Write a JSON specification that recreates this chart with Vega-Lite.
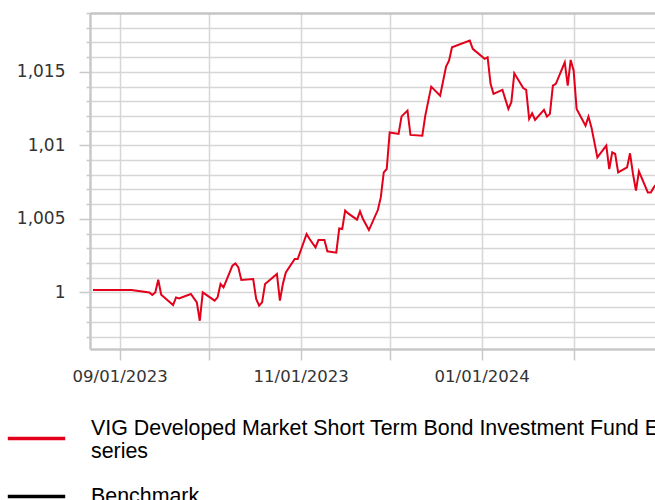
{
  "$schema": "https://vega.github.io/schema/vega-lite/v6.json",
  "width": 565,
  "height": 336,
  "autosize": {"type": "none"},
  "padding": {"left": 90, "top": 13, "right": 0, "bottom": 151},
  "background": "white",
  "config": {"view": {"stroke": null}},
  "data": {
    "values": [
      {"date": "2023-08-23", "value": 1.00016, "series": "VIG Developed Market Short Term Bond Investment Fund E series"},
      {"date": "2023-09-05", "value": 1.00016, "series": "VIG Developed Market Short Term Bond Investment Fund E series"},
      {"date": "2023-09-11", "value": 1.00000, "series": "VIG Developed Market Short Term Bond Investment Fund E series"},
      {"date": "2023-09-12", "value": 0.99982, "series": "VIG Developed Market Short Term Bond Investment Fund E series"},
      {"date": "2023-09-13", "value": 1.00000, "series": "VIG Developed Market Short Term Bond Investment Fund E series"},
      {"date": "2023-09-14", "value": 1.00086, "series": "VIG Developed Market Short Term Bond Investment Fund E series"},
      {"date": "2023-09-15", "value": 0.99984, "series": "VIG Developed Market Short Term Bond Investment Fund E series"},
      {"date": "2023-09-19", "value": 0.99914, "series": "VIG Developed Market Short Term Bond Investment Fund E series"},
      {"date": "2023-09-20", "value": 0.99966, "series": "VIG Developed Market Short Term Bond Investment Fund E series"},
      {"date": "2023-09-21", "value": 0.99959, "series": "VIG Developed Market Short Term Bond Investment Fund E series"},
      {"date": "2023-09-25", "value": 0.99989, "series": "VIG Developed Market Short Term Bond Investment Fund E series"},
      {"date": "2023-09-27", "value": 0.99932, "series": "VIG Developed Market Short Term Bond Investment Fund E series"},
      {"date": "2023-09-28", "value": 0.99807, "series": "VIG Developed Market Short Term Bond Investment Fund E series"},
      {"date": "2023-09-29", "value": 1.00000, "series": "VIG Developed Market Short Term Bond Investment Fund E series"},
      {"date": "2023-10-03", "value": 0.99944, "series": "VIG Developed Market Short Term Bond Investment Fund E series"},
      {"date": "2023-10-04", "value": 0.99966, "series": "VIG Developed Market Short Term Bond Investment Fund E series"},
      {"date": "2023-10-05", "value": 1.00057, "series": "VIG Developed Market Short Term Bond Investment Fund E series"},
      {"date": "2023-10-06", "value": 1.00034, "series": "VIG Developed Market Short Term Bond Investment Fund E series"},
      {"date": "2023-10-09", "value": 1.00182, "series": "VIG Developed Market Short Term Bond Investment Fund E series"},
      {"date": "2023-10-10", "value": 1.00197, "series": "VIG Developed Market Short Term Bond Investment Fund E series"},
      {"date": "2023-10-11", "value": 1.00170, "series": "VIG Developed Market Short Term Bond Investment Fund E series"},
      {"date": "2023-10-12", "value": 1.00084, "series": "VIG Developed Market Short Term Bond Investment Fund E series"},
      {"date": "2023-10-16", "value": 1.00091, "series": "VIG Developed Market Short Term Bond Investment Fund E series"},
      {"date": "2023-10-17", "value": 0.99955, "series": "VIG Developed Market Short Term Bond Investment Fund E series"},
      {"date": "2023-10-18", "value": 0.99910, "series": "VIG Developed Market Short Term Bond Investment Fund E series"},
      {"date": "2023-10-19", "value": 0.99932, "series": "VIG Developed Market Short Term Bond Investment Fund E series"},
      {"date": "2023-10-20", "value": 1.00057, "series": "VIG Developed Market Short Term Bond Investment Fund E series"},
      {"date": "2023-10-24", "value": 1.00125, "series": "VIG Developed Market Short Term Bond Investment Fund E series"},
      {"date": "2023-10-25", "value": 0.99944, "series": "VIG Developed Market Short Term Bond Investment Fund E series"},
      {"date": "2023-10-26", "value": 1.00057, "series": "VIG Developed Market Short Term Bond Investment Fund E series"},
      {"date": "2023-10-27", "value": 1.00136, "series": "VIG Developed Market Short Term Bond Investment Fund E series"},
      {"date": "2023-10-30", "value": 1.00227, "series": "VIG Developed Market Short Term Bond Investment Fund E series"},
      {"date": "2023-10-31", "value": 1.00227, "series": "VIG Developed Market Short Term Bond Investment Fund E series"},
      {"date": "2023-11-03", "value": 1.00397, "series": "VIG Developed Market Short Term Bond Investment Fund E series"},
      {"date": "2023-11-04", "value": 1.00363, "series": "VIG Developed Market Short Term Bond Investment Fund E series"},
      {"date": "2023-11-06", "value": 1.00306, "series": "VIG Developed Market Short Term Bond Investment Fund E series"},
      {"date": "2023-11-07", "value": 1.00356, "series": "VIG Developed Market Short Term Bond Investment Fund E series"},
      {"date": "2023-11-09", "value": 1.00356, "series": "VIG Developed Market Short Term Bond Investment Fund E series"},
      {"date": "2023-11-10", "value": 1.00279, "series": "VIG Developed Market Short Term Bond Investment Fund E series"},
      {"date": "2023-11-13", "value": 1.00270, "series": "VIG Developed Market Short Term Bond Investment Fund E series"},
      {"date": "2023-11-14", "value": 1.00435, "series": "VIG Developed Market Short Term Bond Investment Fund E series"},
      {"date": "2023-11-15", "value": 1.00431, "series": "VIG Developed Market Short Term Bond Investment Fund E series"},
      {"date": "2023-11-16", "value": 1.00556, "series": "VIG Developed Market Short Term Bond Investment Fund E series"},
      {"date": "2023-11-17", "value": 1.00537, "series": "VIG Developed Market Short Term Bond Investment Fund E series"},
      {"date": "2023-11-20", "value": 1.00495, "series": "VIG Developed Market Short Term Bond Investment Fund E series"},
      {"date": "2023-11-21", "value": 1.00551, "series": "VIG Developed Market Short Term Bond Investment Fund E series"},
      {"date": "2023-11-22", "value": 1.00499, "series": "VIG Developed Market Short Term Bond Investment Fund E series"},
      {"date": "2023-11-24", "value": 1.00424, "series": "VIG Developed Market Short Term Bond Investment Fund E series"},
      {"date": "2023-11-27", "value": 1.00560, "series": "VIG Developed Market Short Term Bond Investment Fund E series"},
      {"date": "2023-11-28", "value": 1.00646, "series": "VIG Developed Market Short Term Bond Investment Fund E series"},
      {"date": "2023-11-29", "value": 1.00816, "series": "VIG Developed Market Short Term Bond Investment Fund E series"},
      {"date": "2023-11-30", "value": 1.00839, "series": "VIG Developed Market Short Term Bond Investment Fund E series"},
      {"date": "2023-12-01", "value": 1.01088, "series": "VIG Developed Market Short Term Bond Investment Fund E series"},
      {"date": "2023-12-04", "value": 1.01078, "series": "VIG Developed Market Short Term Bond Investment Fund E series"},
      {"date": "2023-12-05", "value": 1.01197, "series": "VIG Developed Market Short Term Bond Investment Fund E series"},
      {"date": "2023-12-07", "value": 1.01236, "series": "VIG Developed Market Short Term Bond Investment Fund E series"},
      {"date": "2023-12-08", "value": 1.01071, "series": "VIG Developed Market Short Term Bond Investment Fund E series"},
      {"date": "2023-12-12", "value": 1.01066, "series": "VIG Developed Market Short Term Bond Investment Fund E series"},
      {"date": "2023-12-13", "value": 1.01202, "series": "VIG Developed Market Short Term Bond Investment Fund E series"},
      {"date": "2023-12-15", "value": 1.01399, "series": "VIG Developed Market Short Term Bond Investment Fund E series"},
      {"date": "2023-12-18", "value": 1.01338, "series": "VIG Developed Market Short Term Bond Investment Fund E series"},
      {"date": "2023-12-20", "value": 1.01535, "series": "VIG Developed Market Short Term Bond Investment Fund E series"},
      {"date": "2023-12-21", "value": 1.01576, "series": "VIG Developed Market Short Term Bond Investment Fund E series"},
      {"date": "2023-12-22", "value": 1.01667, "series": "VIG Developed Market Short Term Bond Investment Fund E series"},
      {"date": "2023-12-28", "value": 1.01712, "series": "VIG Developed Market Short Term Bond Investment Fund E series"},
      {"date": "2023-12-29", "value": 1.01656, "series": "VIG Developed Market Short Term Bond Investment Fund E series"},
      {"date": "2024-01-02", "value": 1.01588, "series": "VIG Developed Market Short Term Bond Investment Fund E series"},
      {"date": "2024-01-03", "value": 1.01599, "series": "VIG Developed Market Short Term Bond Investment Fund E series"},
      {"date": "2024-01-04", "value": 1.01418, "series": "VIG Developed Market Short Term Bond Investment Fund E series"},
      {"date": "2024-01-05", "value": 1.01350, "series": "VIG Developed Market Short Term Bond Investment Fund E series"},
      {"date": "2024-01-08", "value": 1.01377, "series": "VIG Developed Market Short Term Bond Investment Fund E series"},
      {"date": "2024-01-10", "value": 1.01248, "series": "VIG Developed Market Short Term Bond Investment Fund E series"},
      {"date": "2024-01-11", "value": 1.01293, "series": "VIG Developed Market Short Term Bond Investment Fund E series"},
      {"date": "2024-01-12", "value": 1.01490, "series": "VIG Developed Market Short Term Bond Investment Fund E series"},
      {"date": "2024-01-15", "value": 1.01390, "series": "VIG Developed Market Short Term Bond Investment Fund E series"},
      {"date": "2024-01-16", "value": 1.01377, "series": "VIG Developed Market Short Term Bond Investment Fund E series"},
      {"date": "2024-01-17", "value": 1.01180, "series": "VIG Developed Market Short Term Bond Investment Fund E series"},
      {"date": "2024-01-18", "value": 1.01218, "series": "VIG Developed Market Short Term Bond Investment Fund E series"},
      {"date": "2024-01-19", "value": 1.01173, "series": "VIG Developed Market Short Term Bond Investment Fund E series"},
      {"date": "2024-01-22", "value": 1.01241, "series": "VIG Developed Market Short Term Bond Investment Fund E series"},
      {"date": "2024-01-23", "value": 1.01195, "series": "VIG Developed Market Short Term Bond Investment Fund E series"},
      {"date": "2024-01-24", "value": 1.01214, "series": "VIG Developed Market Short Term Bond Investment Fund E series"},
      {"date": "2024-01-25", "value": 1.01406, "series": "VIG Developed Market Short Term Bond Investment Fund E series"},
      {"date": "2024-01-26", "value": 1.01418, "series": "VIG Developed Market Short Term Bond Investment Fund E series"},
      {"date": "2024-01-29", "value": 1.01565, "series": "VIG Developed Market Short Term Bond Investment Fund E series"},
      {"date": "2024-01-30", "value": 1.01406, "series": "VIG Developed Market Short Term Bond Investment Fund E series"},
      {"date": "2024-01-31", "value": 1.01581, "series": "VIG Developed Market Short Term Bond Investment Fund E series"},
      {"date": "2024-02-01", "value": 1.01508, "series": "VIG Developed Market Short Term Bond Investment Fund E series"},
      {"date": "2024-02-02", "value": 1.01248, "series": "VIG Developed Market Short Term Bond Investment Fund E series"},
      {"date": "2024-02-05", "value": 1.01134, "series": "VIG Developed Market Short Term Bond Investment Fund E series"},
      {"date": "2024-02-06", "value": 1.01195, "series": "VIG Developed Market Short Term Bond Investment Fund E series"},
      {"date": "2024-02-07", "value": 1.01122, "series": "VIG Developed Market Short Term Bond Investment Fund E series"},
      {"date": "2024-02-09", "value": 1.00918, "series": "VIG Developed Market Short Term Bond Investment Fund E series"},
      {"date": "2024-02-12", "value": 1.00998, "series": "VIG Developed Market Short Term Bond Investment Fund E series"},
      {"date": "2024-02-13", "value": 1.00839, "series": "VIG Developed Market Short Term Bond Investment Fund E series"},
      {"date": "2024-02-14", "value": 1.00952, "series": "VIG Developed Market Short Term Bond Investment Fund E series"},
      {"date": "2024-02-15", "value": 1.00941, "series": "VIG Developed Market Short Term Bond Investment Fund E series"},
      {"date": "2024-02-16", "value": 1.00816, "series": "VIG Developed Market Short Term Bond Investment Fund E series"},
      {"date": "2024-02-19", "value": 1.00850, "series": "VIG Developed Market Short Term Bond Investment Fund E series"},
      {"date": "2024-02-20", "value": 1.00946, "series": "VIG Developed Market Short Term Bond Investment Fund E series"},
      {"date": "2024-02-21", "value": 1.00805, "series": "VIG Developed Market Short Term Bond Investment Fund E series"},
      {"date": "2024-02-22", "value": 1.00692, "series": "VIG Developed Market Short Term Bond Investment Fund E series"},
      {"date": "2024-02-23", "value": 1.00823, "series": "VIG Developed Market Short Term Bond Investment Fund E series"},
      {"date": "2024-02-26", "value": 1.00680, "series": "VIG Developed Market Short Term Bond Investment Fund E series"},
      {"date": "2024-02-27", "value": 1.00680, "series": "VIG Developed Market Short Term Bond Investment Fund E series"},
      {"date": "2024-02-28", "value": 1.00714, "series": "VIG Developed Market Short Term Bond Investment Fund E series"},
      {"date": "2024-02-29", "value": 1.00740, "series": "VIG Developed Market Short Term Bond Investment Fund E series"}
    ]
  },
  "mark": {"type": "line", "strokeWidth": 2, "clip": true, "interpolate": "linear"},
  "encoding": {
    "x": {
      "field": "date",
      "type": "temporal",
      "scale": {
        "type": "utc",
        "domain": [
          {"year": 2023, "month": 8, "date": 22, "utc": true},
          {"year": 2024, "month": 2, "date": 28, "hours": 10, "utc": true}
        ]
      },
      "axis": {
        "title": null,
        "values": [
          {"year": 2023, "month": 9, "date": 1, "utc": true},
          {"year": 2023, "month": 10, "date": 1, "utc": true},
          {"year": 2023, "month": 11, "date": 1, "utc": true},
          {"year": 2023, "month": 12, "date": 1, "utc": true},
          {"year": 2024, "month": 1, "date": 1, "utc": true},
          {"year": 2024, "month": 2, "date": 1, "utc": true}
        ],
        "labelExpr": "utcmonth(datum.value) % 2 == 0 ? utcFormat(datum.value, '%m/%d/%Y') : ''",
        "labelOverlap": false,
        "labelFlush": false,
        "labelFont": "DejaVu Sans",
        "labelFontSize": 16.5,
        "labelColor": "#333333",
        "labelPadding": 8,
        "tickSize": 11,
        "tickColor": "#c8c8c8",
        "tickWidth": 1.5,
        "domainColor": "#c8c8c8",
        "domainWidth": 2.5,
        "grid": true,
        "gridColor": "#d6d6d6",
        "gridWidth": 1.5
      }
    },
    "y": {
      "field": "value",
      "type": "quantitative",
      "scale": {"domain": [0.99615, 1.019], "zero": false, "nice": false},
      "axis": {
        "title": null,
        "values": [0.997, 0.998, 0.999, 1.0, 1.001, 1.002, 1.003, 1.004, 1.005, 1.006, 1.007, 1.008, 1.009, 1.01, 1.011, 1.012, 1.013, 1.014, 1.015, 1.016, 1.017, 1.018, 1.019],
        "labelExpr": "abs(datum.value * 200 - round(datum.value * 200)) < 0.01 ? replace(format(datum.value, '.3~f'), '.', ',') : ''",
        "labelOverlap": false,
        "labelFont": "DejaVu Sans",
        "labelFontSize": 17,
        "labelColor": "#333333",
        "labelPadding": 14,
        "tickSize": {"condition": {"test": "abs(datum.value * 200 - round(datum.value * 200)) < 0.01", "value": 11}, "value": 4},
        "tickColor": "#c8c8c8",
        "tickWidth": 1.5,
        "domainColor": "#c8c8c8",
        "domainWidth": 2.5,
        "grid": true,
        "gridColor": {"condition": {"test": "datum.value > 1.0185", "value": "#c4c4c4"}, "value": "#d6d6d6"},
        "gridWidth": {"condition": {"test": "datum.value > 1.0185", "value": 2.5}, "value": 1.5}
      }
    },
    "color": {
      "field": "series",
      "type": "nominal",
      "scale": {
        "domain": ["VIG Developed Market Short Term Bond Investment Fund E series", "Benchmark"],
        "range": ["#e2001a", "#000000"]
      },
      "legend": {
        "title": null,
        "orient": "none",
        "legendX": -84,
        "legendY": 395,
        "direction": "vertical",
        "padding": 0,
        "symbolType": "stroke",
        "symbolSize": 3295,
        "symbolStrokeWidth": 3.5,
        "labelFont": "Liberation Sans",
        "labelFontSize": 21.4,
        "labelColor": "#000000",
        "labelOffset": 24,
        "labelLimit": 2000,
        "rowPadding": 3,
        "labelBaseline": {"expr": "datum.label == 'Benchmark' ? 'middle' : 'bottom'"},
        "labelExpr": "datum.label == 'Benchmark' ? 'Benchmark' : ['VIG Developed Market Short Term Bond Investment Fund E', 'series']"
      }
    }
  }
}
